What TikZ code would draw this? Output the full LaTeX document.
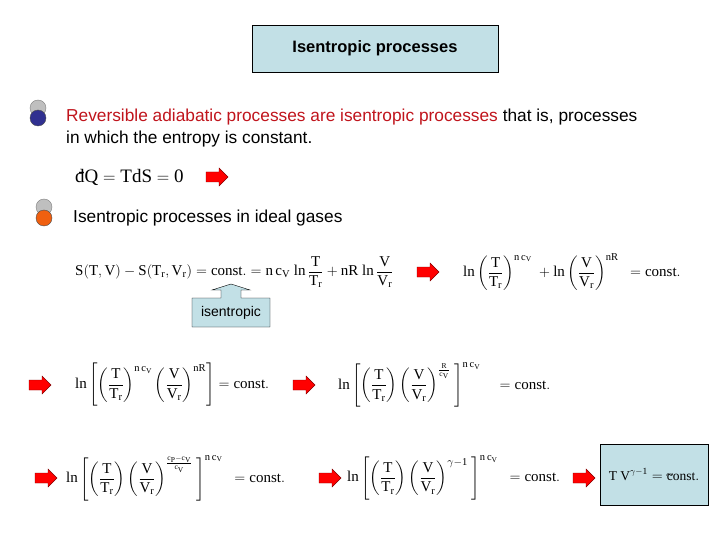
\documentclass[tikz,border=0pt]{standalone}
\usepackage{amsmath}
\usepackage{fontspec}
\setmainfont{Liberation Serif}
\setsansfont{Liberation Sans}
\definecolor{boxblue}{HTML}{C2E0E6}
\definecolor{redtxt}{HTML}{C0141C}
\definecolor{bblue}{HTML}{303090}
\definecolor{borange}{HTML}{F06010}
\tikzset{
  txt/.style={anchor=west,inner sep=0pt,font=\sffamily\fontsize{17.3}{21}\selectfont},
  eq/.style={anchor=west,inner sep=0pt,font=\fontsize{15}{18}\selectfont},
  rarrow/.pic={\filldraw[fill=red,draw=red!50!black] (-11,-5) -- (2,-5) -- (2,-9) -- (11,0) -- (2,9) -- (2,5) -- (-11,5) -- cycle;},
  bluebox/.style={fill=boxblue,draw=black,thick},
}
\newcommand{\rr}{\mathrm{r}}
\begin{document}
\begin{tikzpicture}[x=1pt,y=-1pt]
\useasboundingbox (0,0) rectangle (720,540);
\node[bluebox,minimum width=246pt,minimum height=47pt,font=\sffamily\bfseries\fontsize{16.5}{19}\selectfont] (title) at (375,48.5) {Isentropic processes};
% bullets
\fill[gray!50,draw=gray] (38,108) circle (8);
\fill[bblue,draw=black!70] (38,118) circle (8);
\fill[gray!50,draw=gray] (44,207) circle (8);
\fill[borange,draw=black!70] (44,218) circle (8);
\node[txt] (t1) at (66,117) {\textcolor{redtxt}{Reversible adiabatic processes are isentropic processes} that is, processes};
\node[txt] (t2) at (66,139) {in which the entropy is constant.};
\node[eq,font=\fontsize{19}{22}\selectfont] (e0) at (75,177) {$\mathrm{d\llap{\raisebox{0.5ex}{-}}Q = TdS = 0}$};
\pic at (217,177) {rarrow};
\node[txt] (t3) at (73,218) {Isentropic processes in ideal gases};
\node[eq] (e1) at (75,272) {$\displaystyle \mathrm{S(T,V)-S(T_\rr,V_\rr) = const. = n\,c_V\ ln\,\frac{T}{T_\rr} + nR\ ln\,\frac{V}{V_\rr}}$};
\pic at (428,272) {rarrow};
\node[eq] (e2) at (463,272) {$\displaystyle \mathrm{ln\left(\frac{T}{T_\rr}\right)^{n\,c_V}\ + ln\left(\frac{V}{V_\rr}\right)^{nR}\ \ = const.}$};
\draw[fill=boxblue,draw=black] (192,327) -- (192,298) -- (221,298) -- (221,290) -- (212,290) -- (231,284) -- (250,290) -- (241,290) -- (241,298) -- (270,298) -- (270,327) -- cycle;
\node[font=\sffamily\fontsize{14}{16}\selectfont] (iso) at (231,313) {isentropic};
\pic at (40,385) {rarrow};
\node[eq] (e3) at (75,385) {$\displaystyle \mathrm{ln\left[\left(\frac{T}{T_\rr}\right)^{n\,c_V}\left(\frac{V}{V_\rr}\right)^{nR}\right] = const.}$};
\pic at (304,385) {rarrow};
\node[eq] (e4) at (338,385) {$\displaystyle \mathrm{ln\left[\left(\frac{T}{T_\rr}\right)\left(\frac{V}{V_\rr}\right)^{\frac{R}{c_V}}\ \right]^{n\,c_V}\quad = const.}$};
\pic at (46,478) {rarrow};
\node[eq] (e5) at (66,478) {$\displaystyle \mathrm{ln\left[\left(\frac{T}{T_\rr}\right)\left(\frac{V}{V_\rr}\right)^{\frac{c_P-c_V}{c_V}}\ \right]^{n\,c_V}\ \ = const.}$};
\pic at (330,478) {rarrow};
\node[eq] (e6) at (347,478) {$\displaystyle \mathrm{ln\left[\left(\frac{T}{T_\rr}\right)\left(\frac{V}{V_\rr}\right)^{\gamma-1}\ \right]^{n\,c_V}\ \ = const.}$};
\pic at (584,478) {rarrow};
\node[bluebox,minimum width=108pt,minimum height=61pt,inner sep=1pt,font=\fontsize{13.5}{16}\selectfont] (fin) at (654,474.5) {$\mathrm{T\ V^{\gamma-1} = \tilde{\mathrm{c}}onst.}$};
\end{tikzpicture}
\end{document}
